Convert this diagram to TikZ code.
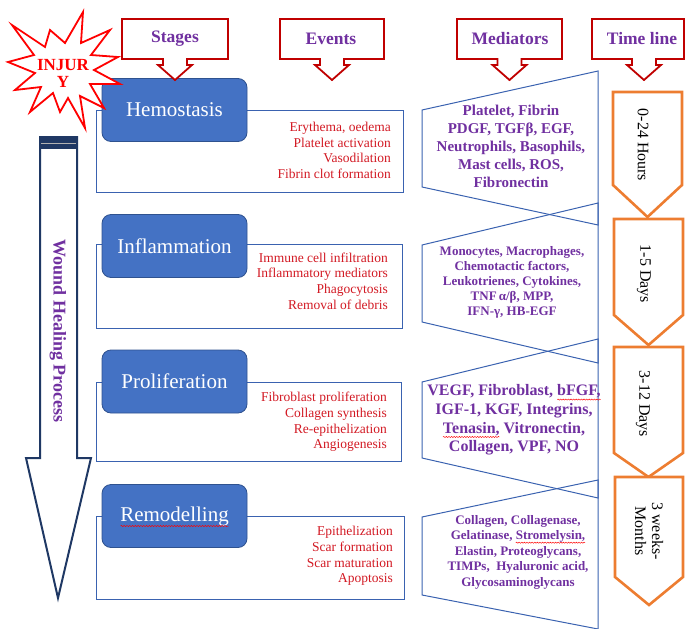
\documentclass[tikz,border=0pt]{standalone}
\usepackage{fontspec}
\setmainfont{Liberation Serif}
\usetikzlibrary{decorations.pathmorphing}
\newsavebox\wavebox
\newcommand\spellwave[1]{\sbox\wavebox{#1}\tikz[overlay,x=1pt,y=1pt,baseline=0pt]\draw[red,line width=0.45pt,decorate,decoration={snake,amplitude=0.55pt,segment length=2.6pt}] (0pt,-0.24em) -- (\wd\wavebox,-0.24em);\usebox\wavebox}
\definecolor{purp}{HTML}{7030A0}
\definecolor{evred}{RGB}{210,25,35}
\definecolor{hdrred}{HTML}{C00000}
\definecolor{boxblue}{HTML}{4472C4}
\definecolor{boxedge}{HTML}{2F528F}
\definecolor{lineblue}{HTML}{3A62B0}
\definecolor{navy}{HTML}{1F3864}
\definecolor{orng}{HTML}{ED7D31}
\newcommand\hdrcallout[3]{\draw[hdr] (#1,19) -- (#2,19) -- (#2,59) -- (#3+12,59) -- (#3+12,65) -- (#3+17,65) -- (#3,80) -- (#3-17,65) -- (#3-12,65) -- (#3-12,59) -- (#1,59) -- cycle;}
\begin{document}
\begin{tikzpicture}[x=1pt,y=-1pt,
  hdr/.style={draw=hdrred, line width=1.8pt, fill=white, line join=miter},
  hdrtext/.style={text=purp, font=\fontsize{17.5}{20}\selectfont\bfseries, inner sep=0},
  stagebox/.style={rounded corners=9pt, fill=boxblue, draw=boxedge, line width=0.8pt, minimum width=145pt, minimum height=63pt, text=white, font=\fontsize{21}{24}\selectfont, inner sep=0},
  evbox/.style={draw=lineblue, line width=1pt},
  evtext/.style={text=evred, align=right, font=\fontsize{13.5}{15.6}\selectfont, inner sep=0, anchor=east},
  medline/.style={draw=lineblue, line width=1pt},
  medtext/.style={text=purp, align=center, inner sep=0},
  tl/.style={draw=orng, line width=2.6pt, fill=white, line join=miter},
  tltext/.style={rotate=-90, align=center, font=\fontsize{16}{17}\selectfont, inner sep=0},
  spell/.style={draw=red, line width=0.5pt, decorate, decoration={snake, amplitude=0.6pt, segment length=2.8pt}}
]
\useasboundingbox (0,0) rectangle (691,629);

% event outline rectangles
\draw[evbox] (96,110) rectangle (403,192);
\draw[evbox] (96,244) rectangle (402,328);
\draw[evbox] (96,382) rectangle (401,461);
\draw[evbox] (96,516) rectangle (404,599);

% stage boxes
\node[stagebox] (hemo) at (174.5,110) {Hemostasis};
\node[stagebox] (infl) at (174.5,246) {Inflammation};
\node[stagebox] (prol) at (174.5,381.5) {Proliferation};
\node[stagebox] (remo) at (174.5,516) {Remodelling};
\draw[spell] ([xshift=-54pt,yshift=-5pt]remo.base) -- ([xshift=54pt,yshift=-5pt]remo.base);

% events
\node[evtext] (ev1) at (391,150.5) {Erythema, oedema\\Platelet activation\\Vasodilation\\Fibrin clot formation};
\node[evtext] (ev2) at (388,281) {Immune cell infiltration\\Inflammatory mediators\\Phagocytosis\\Removal of debris};
\node[evtext] (ev3) at (387,422) {Fibroblast proliferation\\Collagen synthesis\\Re-epithelization\\Angiogenesis};
\node[evtext] (ev4) at (393,556) {Epithelization\\Scar formation\\Scar maturation\\Apoptosis};

% header callouts
\hdrcallout{122}{228}{175}
\hdrcallout{280}{384}{332}
\hdrcallout{457}{562}{509.5}
\hdrcallout{592}{684}{644}
\node[hdrtext] (hs) at (175,39) {Stages};
\node[hdrtext] (he) at (331,39) {Events};
\node[hdrtext] (hm) at (510,39) {Mediators};
\node[hdrtext] (ht) at (642,39) {Time line};

% mediator shapes
\draw[medline] (598,71) -- (422,110) -- (422,187) -- (598,225) -- cycle;
\draw[medline] (598,203) -- (422,245) -- (422,322) -- (598,363) -- cycle;
\draw[medline] (598,339) -- (422,382) -- (422,458) -- (598,498) -- cycle;
\draw[medline] (598,480) -- (422,517) -- (422,595) -- (598,629) -- cycle;

\node[medtext, font=\fontsize{15}{18}\selectfont\bfseries] (m1) at (511,146) {Platelet, Fibrin\\PDGF, TGFβ, EGF,\\Neutrophils, Basophils,\\Mast cells, ROS,\\Fibronectin};
\node[medtext, font=\fontsize{13}{15}\selectfont\bfseries] (m2) at (512,282.5) {Monocytes, Macrophages,\\Chemotactic factors,\\Leukotrienes, Cytokines,\\TNF\,α/β, MPP,\\IFN-γ, HB-EGF};
\node[medtext, font=\fontsize{16}{18.7}\selectfont\bfseries] (m3) at (514,420) {VEGF, Fibroblast, \spellwave{bFGF,}\\IGF-1, KGF, Integrins,\\\spellwave{Tenasin,} Vitronectin,\\Collagen, VPF, NO};
\node[medtext, font=\fontsize{13}{15.5}\selectfont\bfseries] (m4) at (518,552) {Collagen, Collagenase,\\Gelatinase, \spellwave{Stromelysin,}\\Elastin, Proteoglycans,\\TIMPs,\ \ Hyaluronic acid,\\Glycosaminoglycans};

% timeline pentagons
\draw[tl] (613,92) -- (682,92) -- (682,185) -- (647.5,217) -- (613,185) -- cycle;
\draw[tl] (614,219) -- (683,219) -- (683,315) -- (648.5,345) -- (614,315) -- cycle;
\draw[tl] (614,347) -- (683,347) -- (683,453) -- (648.5,477) -- (614,453) -- cycle;
\draw[tl] (615,477) -- (683,477) -- (683,577) -- (649,605) -- (615,577) -- cycle;
\node[tltext] (t1) at (643,145) {0-24 Hours};
\node[tltext] (t2) at (644,274) {1-5 Days};
\node[tltext] (t3) at (643,404) {3-12 Days};
\node[tltext] (t4) at (649,531) {3 weeks-\\Months};

% big arrow
\draw[navy, line width=2pt, fill=white, line join=miter] (40,137) -- (77,137) -- (77,458) -- (91,458) -- (58,598) -- (26,458) -- (40,458) -- cycle;
\fill[navy] (39,136) rectangle (78,149);
\draw[gray!60, line width=1.5pt] (41,143.5) -- (76,143.5);
\node[rotate=-90, text=purp, font=\fontsize{18}{20}\selectfont\bfseries, inner sep=0] (whp) at (58,331) {Wound Healing Process};

% injury star
\draw[draw=red, line width=1.8pt, fill=white, line join=miter] (83,12) -- (81,43) -- (110,30) -- (91,55) -- (118,57) -- (94,70) -- (120,84) -- (90,84) -- (104,108) -- (80,96) -- (85,128) -- (68,98) -- (60,112) -- (53,93) -- (30,112) -- (41,87) -- (15,90) -- (35,73) -- (8,62) -- (34,55) -- (12,25) -- (45,47) -- (50,30) -- (65,43) -- cycle;
\node[text=red, align=center, font=\fontsize{17}{17}\selectfont\bfseries, inner sep=0] (inj) at (63,73) {INJUR\\Y};
\end{tikzpicture}
\end{document}
